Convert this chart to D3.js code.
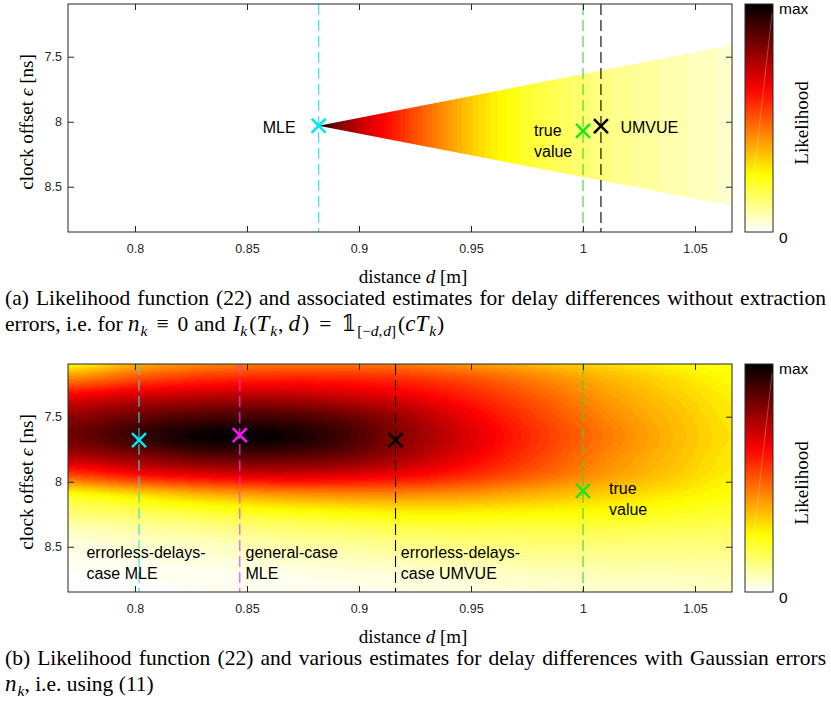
<!DOCTYPE html>
<html>
<head>
<meta charset="utf-8">
<script src="https://cdn.jsdelivr.net/npm/d3@7"></script>
<style>
body{margin:0;background:#fff}
svg{display:block}
</style>
</head>
<body>
<svg id="fig" width="831" height="706"></svg>
<script>
// axis limits and ticks (same for both panels)
var dLim = [0.7701, 1.0665];
var epsLim = [7.0946, 8.848];
var dTicks = [0.8, 0.85, 0.9, 0.95, 1, 1.05];
var epsTicks = [7.5, 8, 8.5];

// panel (a): likelihood along d inside the feasible wedge
var wedgeD = [0.882, 0.886, 0.89, 0.9, 0.91, 0.92, 0.93, 0.94, 0.95, 0.963, 0.975, 0.993, 1.0, 1.022, 1.045, 1.0665];
var wedgeL = [1.0, 0.9, 0.82, 0.71, 0.63, 0.55, 0.47, 0.4, 0.33, 0.26, 0.21, 0.16, 0.145, 0.11, 0.08, 0.055];
var wedgeApex = [0.882, 8.031];
var wedgeEndD = 1.0665;
var wedgeEndEps = [7.41, 8.647];

// panel (b): likelihood read on a grid (rows = eps, cols = d)
var gridD = [0.77, 0.80, 0.83, 0.86, 0.89, 0.92, 0.95, 0.98, 1.01, 1.04, 1.07];
var gridEps = [7.05, 7.20, 7.35, 7.50, 7.65, 7.80, 7.95, 8.10, 8.25, 8.40, 8.55, 8.70, 8.85];
var gridL = [
  [0.20, 0.33, 0.39, 0.42, 0.42, 0.41, 0.37, 0.33, 0.29, 0.25, 0.22],
  [0.42, 0.50, 0.55, 0.57, 0.57, 0.55, 0.50, 0.43, 0.36, 0.30, 0.25],
  [0.65, 0.70, 0.73, 0.74, 0.71, 0.66, 0.58, 0.49, 0.40, 0.33, 0.27],
  [0.78, 0.84, 0.88, 0.89, 0.85, 0.76, 0.64, 0.53, 0.43, 0.35, 0.28],
  [0.83, 0.91, 0.98, 0.98, 0.91, 0.79, 0.67, 0.55, 0.45, 0.36, 0.29],
  [0.74, 0.80, 0.86, 0.87, 0.84, 0.75, 0.64, 0.53, 0.43, 0.35, 0.28],
  [0.52, 0.60, 0.65, 0.68, 0.67, 0.63, 0.56, 0.48, 0.40, 0.33, 0.27],
  [0.24, 0.30, 0.36, 0.40, 0.42, 0.42, 0.40, 0.36, 0.32, 0.28, 0.24],
  [0.14, 0.16, 0.19, 0.22, 0.24, 0.26, 0.26, 0.25, 0.24, 0.22, 0.20],
  [0.06, 0.08, 0.10, 0.12, 0.14, 0.16, 0.17, 0.17, 0.17, 0.16, 0.16],
  [0.03, 0.04, 0.05, 0.07, 0.08, 0.10, 0.11, 0.12, 0.12, 0.12, 0.12],
  [0.015, 0.02, 0.025, 0.03, 0.04, 0.05, 0.06, 0.07, 0.08, 0.08, 0.09],
  [0.01, 0.01, 0.015, 0.02, 0.025, 0.03, 0.04, 0.045, 0.05, 0.055, 0.06]
];

// estimates
var estNamesA = ["MLE", "true value", "UMVUE"];
var estDA = [0.882, 1.0, 1.008];
var estEpsA = [8.031, 8.07, 8.034];
var estNamesB = ["errorless-delays-case MLE", "general-case MLE", "errorless-delays-case UMVUE", "true value"];
var estDB = [0.8018, 0.8468, 0.9163, 1.0];
var estEpsB = [7.68, 7.641, 7.68, 8.07];

var cbLabels = ["max", "0"];
var captionA1 = "(a) Likelihood function (22) and associated estimates for delay differences without extraction";
var captionB1 = "(b) Likelihood function (22) and various estimates for delay differences with Gaussian errors";

var svg = d3.select("#fig");
var sans = "'Liberation Sans', Arial, Helvetica, sans-serif";
var serif = "'Liberation Serif', 'Times New Roman', 'DejaVu Serif', serif";
var axisCol = "#262626";
var L = 68, R = 732, H = 228;

// flipped "hot" colormap, 64 entries like matlab
var cmap = d3.scaleLinear().domain([0, 0.25, 0.625, 1])
  .range(["#ffffff", "#ffff00", "#ff0000", "#000000"])
  .interpolate(d3.interpolateRgb);
var lut = d3.range(64).map(function(i){ return d3.rgb(cmap(i / 63)); });

function heatImage(x, y, valueAt) {
  var w = R - L, h = H, top = y.range()[0];
  var cv = document.createElement("canvas");
  cv.width = w; cv.height = h;
  var ctx = cv.getContext("2d");
  var img = ctx.createImageData(w, h);
  for (var j = 0; j < h; j++) {
    var e = y.invert(top + j + 0.5);
    for (var i = 0; i < w; i++) {
      var d = x.invert(L + i + 0.5);
      var v = valueAt(d, e);
      var k = (j * w + i) * 4;
      if (v == null) { img.data[k + 3] = 0; continue; }
      var c = lut[Math.max(0, Math.min(63, Math.floor(v * 64)))];
      img.data[k] = c.r; img.data[k + 1] = c.g; img.data[k + 2] = c.b; img.data[k + 3] = 255;
    }
  }
  ctx.putImageData(img, 0, 0);
  return cv.toDataURL();
}

function cr(p0, p1, p2, p3, t) {
  return 0.5 * (2 * p1 + (-p0 + p2) * t + (2 * p0 - 5 * p1 + 4 * p2 - p3) * t * t + (-p0 + 3 * p1 - 3 * p2 + p3) * t * t * t);
}
var colIdx = d3.scaleLinear().domain([gridD[0], gridD[gridD.length - 1]]).range([0, gridD.length - 1]);
var rowIdx = d3.scaleLinear().domain([gridEps[0], gridEps[gridEps.length - 1]]).range([0, gridEps.length - 1]);
function gridAt(r, c) {
  r = Math.max(0, Math.min(gridEps.length - 1, r));
  c = Math.max(0, Math.min(gridD.length - 1, c));
  return gridL[r][c];
}
function bicubic(d, e) {
  var fc = colIdx(d), fr = rowIdx(e);
  var c1 = Math.floor(fc), r1 = Math.floor(fr);
  var tc = fc - c1, tr = fr - r1;
  var rows = [];
  for (var m = -1; m <= 2; m++) {
    rows.push(cr(gridAt(r1 + m, c1 - 1), gridAt(r1 + m, c1), gridAt(r1 + m, c1 + 1), gridAt(r1 + m, c1 + 2), tc));
  }
  var v = cr(rows[0], rows[1], rows[2], rows[3], tr);
  return Math.max(0, Math.min(1, v));
}

function drawPanel(top, id) {
  var x = d3.scaleLinear().domain(dLim).range([L, R]);
  var y = d3.scaleLinear().domain(epsLim).range([top, top + H]);
  var g = svg.append("g");

  g.append("clipPath").attr("id", "clip" + id)
    .append("rect").attr("x", L).attr("y", top).attr("width", R - L).attr("height", H);

  // colorbar
  var grad = svg.append("defs").append("linearGradient").attr("id", "cb" + id)
    .attr("x1", 0).attr("y1", 0).attr("x2", 0).attr("y2", 1);
  d3.range(0, 1.0001, 0.05).forEach(function(t){
    grad.append("stop").attr("offset", t).attr("stop-color", cmap(1 - t));
  });
  g.append("rect").attr("x", 745).attr("y", top).attr("width", 28).attr("height", H)
    .attr("fill", "url(#cb" + id + ")").attr("stroke", axisCol).attr("stroke-width", 1);
  g.append("line").attr("x1", 748).attr("y1", top + 222).attr("x2", 772).attr("y2", top + 10)
    .attr("stroke", "#fff").attr("stroke-opacity", 0.35).attr("stroke-width", 0.8);
  g.append("text").attr("x", 779).attr("y", top + 10).text(cbLabels[0])
    .attr("font-family", sans).attr("font-size", 15.5).attr("fill", "#000");
  g.append("text").attr("x", 779).attr("y", top + 239).text(cbLabels[1])
    .attr("font-family", sans).attr("font-size", 15.5).attr("fill", "#000");
  g.append("text").attr("transform", "translate(808," + (top + 119) + ") rotate(-90)")
    .attr("text-anchor", "middle").attr("font-family", serif).attr("font-size", 19)
    .text("Likelihood");

  return {g: g, x: x, y: y, top: top, id: id};
}

function finishPanel(p) {
  var g = p.g, x = p.x, y = p.y, top = p.top;
  var bottomAx = d3.axisBottom(x).tickValues(dTicks).tickSizeInner(-6).tickSizeOuter(0)
    .tickPadding(12).tickFormat(function(d){ return String(d); });
  var leftAx = d3.axisLeft(y).tickValues(epsTicks).tickSizeInner(-6).tickSizeOuter(0)
    .tickPadding(6).tickFormat(function(d){ return String(d); });
  var gb = g.append("g").attr("transform", "translate(0," + (top + H) + ")").call(bottomAx);
  var gl = g.append("g").attr("transform", "translate(" + L + ",0)").call(leftAx);
  var gt = g.append("g").attr("transform", "translate(0," + top + ")")
    .call(d3.axisTop(x).tickValues(dTicks).tickSizeInner(-6).tickSizeOuter(0).tickFormat(""));
  var gr = g.append("g").attr("transform", "translate(" + R + ",0)")
    .call(d3.axisRight(y).tickValues(epsTicks).tickSizeInner(-6).tickSizeOuter(0).tickFormat(""));
  [gb, gl, gt, gr].forEach(function(a){
    a.select(".domain").remove();
    a.selectAll("line").attr("stroke", axisCol);
    a.selectAll("text").attr("fill", axisCol).attr("font-family", sans).attr("font-size", 12.5);
  });
  g.append("rect").attr("x", L).attr("y", top).attr("width", R - L).attr("height", H)
    .attr("fill", "none").attr("stroke", axisCol).attr("stroke-width", 1);

  // axis labels
  var yl = g.append("text").attr("transform", "translate(33," + (top + 118) + ") rotate(-90)")
    .attr("text-anchor", "middle").attr("font-family", serif).attr("font-size", 19);
  yl.append("tspan").text("clock offset ");
  yl.append("tspan").attr("font-style", "italic").text("ϵ");
  yl.append("tspan").text(" [ns]");
  var xl = g.append("text").attr("x", 413).attr("y", top + 279)
    .attr("text-anchor", "middle").attr("font-family", serif).attr("font-size", 19);
  xl.append("tspan").text("distance ");
  xl.append("tspan").attr("font-style", "italic").text("d");
  xl.append("tspan").text(" [m]");
}

function vline(p, d, color) {
  p.g.append("line").attr("x1", p.x(d)).attr("x2", p.x(d))
    .attr("y1", p.top).attr("y2", p.top + H)
    .attr("stroke", color).attr("stroke-width", 1.1).attr("stroke-dasharray", "11,5");
}
function cross(p, d, e, color) {
  var cx = p.x(d), cy = p.y(e), s = 7;
  p.g.append("path")
    .attr("d", "M" + (cx - s) + "," + (cy - s) + "L" + (cx + s) + "," + (cy + s) +
               "M" + (cx - s) + "," + (cy + s) + "L" + (cx + s) + "," + (cy - s))
    .attr("stroke", color).attr("stroke-width", 2.6).attr("fill", "none");
}
function label(p, lines, px, py, anchor) {
  var t = p.g.append("text").attr("font-family", sans).attr("font-size", 16)
    .attr("fill", "#000").attr("text-anchor", anchor || "start");
  lines.forEach(function(s, i){
    t.append("tspan").attr("x", px).attr("y", py + i * 21).text(s);
  });
}

// ---------- panel (a)
var pa = drawPanel(4, "a");
var wedgeScale = d3.scaleLinear().domain(wedgeD).range(wedgeL).clamp(true);
pa.g.append("clipPath").attr("id", "wedge")
  .append("path").attr("d",
    "M" + pa.x(wedgeApex[0]) + "," + pa.y(wedgeApex[1]) +
    "L" + pa.x(wedgeEndD) + "," + pa.y(wedgeEndEps[0]) +
    "L" + (pa.x(wedgeEndD) + 2) + "," + pa.y(wedgeEndEps[0]) +
    "L" + (pa.x(wedgeEndD) + 2) + "," + pa.y(wedgeEndEps[1]) +
    "L" + pa.x(wedgeEndD) + "," + pa.y(wedgeEndEps[1]) + "Z");
pa.g.append("g").attr("clip-path", "url(#clipa)")
  .append("image").attr("x", L).attr("y", pa.top).attr("width", R - L).attr("height", H)
  .attr("clip-path", "url(#wedge)")
  .attr("href", heatImage(pa.x, pa.y, function(d, e){
    return d < wedgeApex[0] - 0.002 ? null : wedgeScale(d);
  }));
var colA = ["#30d8e4", "#3ad43a", "#000000"];
var mkA = ["#00eaf5", "#1ee61e", "#000000"];
vline(pa, estDA[0], colA[0]);
vline(pa, estDA[1], colA[1]);
vline(pa, estDA[2], colA[2]);
cross(pa, estDA[0], estEpsA[0], mkA[0]);
cross(pa, estDA[1], estEpsA[1], mkA[1]);
cross(pa, estDA[2], estEpsA[2], mkA[2]);
label(pa, ["MLE"], pa.x(estDA[0]) - 23, pa.y(estEpsA[0]) + 7, "end");
label(pa, ["true", "value"], pa.x(estDA[1]) - 49, pa.y(estEpsA[1]) + 5.5);
label(pa, ["UMVUE"], pa.x(estDA[2]) + 19.5, pa.y(estEpsA[2]) + 7.3);
finishPanel(pa);

// ---------- panel (b)
var pb = drawPanel(364, "b");
pb.g.append("g").attr("clip-path", "url(#clipb)")
  .append("image").attr("x", L).attr("y", pb.top).attr("width", R - L).attr("height", H)
  .attr("href", heatImage(pb.x, pb.y, bicubic));
var colB = ["#30d8e4", "#ff30ff", "#000000", "#3ad43a"];
var mkB = ["#00eaf5", "#ff10ff", "#000000", "#1ee61e"];
for (var i = 0; i < estDB.length; i++) vline(pb, estDB[i], colB[i]);
for (var i = 0; i < estDB.length; i++) cross(pb, estDB[i], estEpsB[i], mkB[i]);
label(pb, ["errorless-delays-", "case MLE"], pb.x(estDB[0]) - 52.6, pb.top + 194);
label(pb, ["general-case", "MLE"], pb.x(estDB[1]) + 5.7, pb.top + 194);
label(pb, ["errorless-delays-", "case UMVUE"], pb.x(estDB[2]) + 5.3, pb.top + 194);
label(pb, ["true", "value"], pb.x(estDB[3]) + 26, pb.y(estEpsB[3]) + 3.5);
finishPanel(pb);

// ---------- captions
var capSize = 21.5;
function justify(str, yb, x0, x1) {
  var words = str.split(" ");
  var nodes = words.map(function(w){
    return svg.append("text").attr("y", yb).attr("font-family", serif)
      .attr("font-size", capSize).attr("fill", "#000").text(w);
  });
  var widths = nodes.map(function(n){ return n.node().getComputedTextLength(); });
  var gap = (x1 - x0 - d3.sum(widths)) / (words.length - 1);
  var cx = x0;
  nodes.forEach(function(n, i){ n.attr("x", cx); cx += widths[i] + gap; });
}
// parts: [text, style, dx]; style "i" italic, "sub" subscript, "isub" italic subscript
function richLine(parts, xb, yb) {
  var t = svg.append("text").attr("x", xb).attr("y", yb).attr("font-family", serif)
    .attr("font-size", capSize).attr("fill", "#000");
  var shift = 0;
  parts.forEach(function(p){
    var s = p[1] || "";
    var sub = s.indexOf("sub") >= 0;
    var want = sub ? 5 : 0;
    var ts = t.append("tspan").text(p[0]).attr("dy", want - shift);
    shift = want;
    if (p[2] != null) ts.attr("dx", p[2]);
    if (s.indexOf("i") === 0) ts.attr("font-style", "italic").attr("font-size", sub ? 15.5 : 23);
    else if (sub) ts.attr("font-size", 15);
  });
}
justify(captionA1, 305, 5, 826);
richLine([["errors, i.e. for "], ["n", "i"], ["k", "isub", 1], ["\u2261", "", 9], ["0", "", 9], ["and ", "", 6],
  ["I", "i", 2], ["k", "isub"], ["(", "", 2], ["T", "i"], ["k", "isub", 1], [",", "", 1], ["d", "i", 5], [")", "", 2],
  ["=", "", 10], ["\uD835\uDFD9", "", 10],
  ["[\u2212", "sub", 1], ["d", "isub"], [",", "sub"], ["d", "isub", 1], ["]", "sub"],
  ["(", "", 2], ["c", "i"], ["T", "i"], ["k", "isub", 1], [")", "", 1]], 5, 331);
justify(captionB1, 665, 5, 826);
richLine([["n", "i"], ["k", "isub", 1], [", i.e. using (11)"]], 5, 691);
</script>
</body>
</html>
